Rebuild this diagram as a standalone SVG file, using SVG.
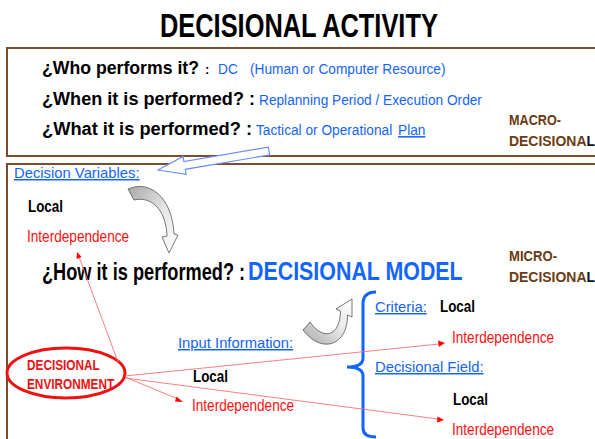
<svg xmlns="http://www.w3.org/2000/svg" width="595" height="439" viewBox="0 0 595 439">
<defs>
<style>
text{font-family:"Liberation Sans",Arial,sans-serif}
.q{font-weight:bold;font-size:18px;fill:#000}
.b{font-size:13.7px;fill:#1464ff}
.bu{font-size:14.8px;fill:#1464ff;text-decoration:underline}
.loc{font-weight:bold;font-size:13.4px;fill:#000}
.red{font-size:13.6px;fill:#ff1010}
.lvl{font-weight:bold;font-size:13px;fill:#6b3a12}
.env{font-weight:bold;font-size:11.8px;fill:#ee1111}
.box{fill:none;stroke:#7a4e2c;stroke-width:2}
.rl{stroke:#ff7070;stroke-width:0.9;fill:none}
.ah{fill:#ff0000}
.garrow{stroke:#555;stroke-width:0.8}
</style>
<linearGradient id="g1" x1="0" y1="0" x2="1" y2="1">
<stop offset="0" stop-color="#a8a8a8"/>
<stop offset="0.55" stop-color="#e8e8e8"/>
<stop offset="1" stop-color="#ffffff"/>
</linearGradient>
<linearGradient id="g2" x1="0" y1="1" x2="1" y2="0">
<stop offset="0" stop-color="#a8a8a8"/>
<stop offset="0.55" stop-color="#e8e8e8"/>
<stop offset="1" stop-color="#ffffff"/>
</linearGradient>
</defs>
<rect width="595" height="439" fill="#fff"/>

<text transform="translate(160,37) scale(1,1.28)" font-size="25.4" font-weight="bold">DECISIONAL ACTIVITY</text>

<g id="macro">
<rect class="box" x="7" y="48" width="600" height="108"/>
<text class="q" x="42" y="74" textLength="157" lengthAdjust="spacingAndGlyphs">¿Who performs it?</text>
<text x="205" y="74" font-size="13" font-weight="bold">:</text>
<text class="b" transform="translate(218,74) scale(1,1.12)" font-size="12.6">DC</text>
<text class="b" transform="translate(250,74) scale(1,1.12)">(Human or Computer Resource)</text>
<text class="q" x="42" y="105" textLength="213" lengthAdjust="spacingAndGlyphs">¿When it is performed? :</text>
<text class="b" transform="translate(259,105) scale(1,1.12)">Replanning Period / Execution Order</text>
<text class="q" x="42" y="135" textLength="210" lengthAdjust="spacingAndGlyphs">¿What it is performed? :</text>
<text class="b" transform="translate(256,135) scale(1,1.12)">Tactical or Operational</text>
<text class="b" transform="translate(398,135) scale(1,1.12)" text-decoration="underline">Plan</text>
<text class="lvl" transform="translate(509,125) scale(1,1.1)" textLength="52" lengthAdjust="spacingAndGlyphs">MACRO-</text>
<text class="lvl" transform="translate(509,146) scale(1,1.1)" textLength="86" lengthAdjust="spacingAndGlyphs">DECISIONA<tspan fill="#111">L</tspan></text>
</g>

<g id="micro">
<rect class="box" x="7" y="164" width="600" height="290"/>
<text class="lvl" transform="translate(509,261) scale(1,1.1)" textLength="48" lengthAdjust="spacingAndGlyphs">MICRO-</text>
<text class="lvl" transform="translate(509,282) scale(1,1.1)" textLength="86" lengthAdjust="spacingAndGlyphs">DECISIONA<tspan fill="#111">L</tspan></text>
</g>

<g id="decision-variables">
<text class="bu" x="14" y="178">Decision Variables:</text>
<text class="loc" transform="translate(28,212) scale(1,1.2)">Local</text>
<text class="red" transform="translate(27,242) scale(1,1.2)">Interdependence</text>
</g>

<g id="how">
<text transform="translate(42,280) scale(1,1.3)" font-size="18.2" font-weight="bold">¿How it is performed? :</text>
<text transform="translate(248,280) scale(1,1.18)" font-size="21.4" font-weight="bold" fill="#1464ff">DECISIONAL MODEL</text>
</g>

<g id="environment">
<ellipse cx="66" cy="373" rx="59" ry="25" fill="#fff" stroke="#ee1111" stroke-width="3"/>
<text class="env" transform="translate(27,370) scale(1,1.3)">DECISIONAL</text>
<text class="env" transform="translate(27,389) scale(1,1.3)">ENVIRONMENT</text>
</g>

<g id="input-information">
<text class="bu" x="178" y="348" font-size="15.3">Input Information:</text>
<text class="loc" transform="translate(193,382) scale(1,1.2)">Local</text>
<text class="red" transform="translate(192,411) scale(1,1.2)">Interdependence</text>
</g>

<g id="criteria">
<text class="bu" x="375" y="312">Criteria:</text>
<text class="loc" transform="translate(440,312) scale(1,1.2)">Local</text>
<text class="red" transform="translate(452,343) scale(1,1.2)">Interdependence</text>
</g>

<g id="decisional-field">
<text class="bu" x="375" y="372">Decisional Field:</text>
<text class="loc" transform="translate(453,405) scale(1,1.2)">Local</text>
<text class="red" transform="translate(452,435) scale(1,1.2)">Interdependence</text>
</g>

<g id="brace">
<path d="M376 292 C367 292 363 296 363 304 L363 358 C363 364 357 367 347 367 C357 367 363 370 363 376 L363 428 C363 434 367 437 376 437" fill="none" stroke="#1464ff" stroke-width="3"/>
</g>

<g id="connectors">
<polygon points="158,170 183.1,156.5 183.9,161.5 268.3,147.1 269.7,154.9 185.3,169.3 186.1,174.3" fill="#fff" stroke="#6b8cff" stroke-width="1.2"/>
<path class="garrow" fill="url(#g1)" d="M128 189 C148 180 172 195 174 234 L178 235 L169 253 L162 237 L167 236 C166 208 150 196 134 200 Z"/>
<path class="garrow" fill="url(#g2)" d="M310 322 C322 340 340 338 340.5 311 L336 309 L352 299 L352 317 L347.5 315 C348 345 322 355 303 330 Z"/>
<line class="rl" x1="118" y1="362" x2="79" y2="257"/>
<polygon class="ah" points="77,252 76.5,259 81.5,257"/>
<line class="rl" x1="125" y1="376" x2="439" y2="344"/>
<polygon class="ah" points="445,343 438,340.5 438.8,347"/>
<line class="rl" x1="125" y1="377" x2="178" y2="399"/>
<polygon class="ah" points="183,402 176.5,396.5 175,401.5"/>
<line class="rl" x1="125" y1="378" x2="438" y2="419"/>
<polygon class="ah" points="444,420 437.5,416.5 437,422.5"/>
</g>
</svg>
